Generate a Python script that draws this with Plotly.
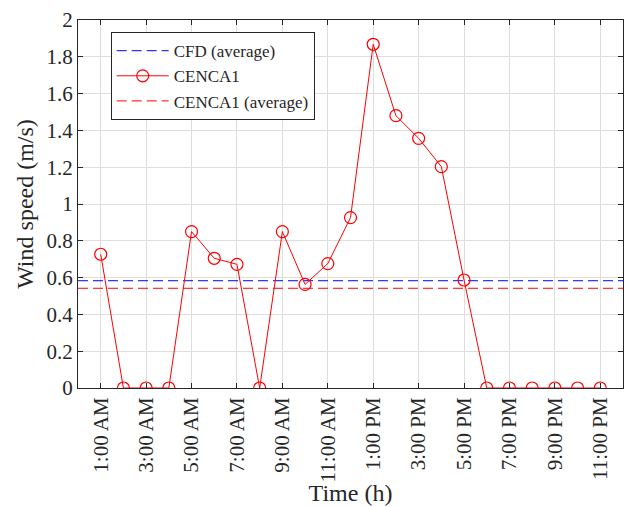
import plotly.graph_objects as go

hours = list(range(1, 24))
cenca1 = [0.727, 0, 0, 0, 0.85, 0.705, 0.672, 0, 0.85, 0.563, 0.676, 0.926,
          1.868, 1.48, 1.357, 1.203, 0.587, 0, 0, 0, 0, 0, 0]
cfd_avg = 0.583
cenca1_avg = 0.542
tick_vals = [1, 3, 5, 7, 9, 11, 13, 15, 17, 19, 21, 23]
tick_text = ["1:00 AM", "3:00 AM", "5:00 AM", "7:00 AM", "9:00 AM", "11:00 AM",
             "1:00 PM", "3:00 PM", "5:00 PM", "7:00 PM", "9:00 PM", "11:00 PM"]
x_range = [0, 24]

FONT = "Liberation Serif"
TXT = "#262626"

fig = go.Figure()
fig.add_trace(go.Scatter(x=x_range, y=[cfd_avg, cfd_avg], mode="lines",
                         name="CFD (average)",
                         line=dict(color="#0000ff", width=1, dash="10px,5px")))
fig.add_trace(go.Scatter(x=hours, y=cenca1, mode="lines+markers", name="CENCA1",
                         line=dict(color="#ff0000", width=1),
                         marker=dict(symbol="circle-open", size=12, color="#ff0000",
                                     line=dict(width=1.2, color="#ff0000"))))
fig.add_trace(go.Scatter(x=x_range, y=[cenca1_avg, cenca1_avg], mode="lines",
                         name="CENCA1 (average)",
                         line=dict(color="#ff0000", width=1, dash="10px,5px")))

fig.update_layout(
    width=624, height=506,
    margin=dict(l=78, r=1, t=20, b=118),
    paper_bgcolor="white", plot_bgcolor="white",
    font=dict(family=FONT, color=TXT, size=18),
    showlegend=True,
    legend=dict(x=0.06, y=0.967, xanchor="left", yanchor="top",
                bgcolor="white", bordercolor=TXT, borderwidth=1,
                font=dict(family=FONT, size=17, color=TXT),
                tracegroupgap=0, itemwidth=52),
)
fig.update_xaxes(range=x_range, tickvals=tick_vals, ticktext=tick_text,
                 tickangle=-90, ticks="inside", ticklen=5, tickcolor=TXT,
                 showline=True, linecolor=TXT, linewidth=1, mirror="ticks",
                 showgrid=True, gridcolor="#dedede", gridwidth=1, zeroline=False,
                 automargin=False,
                 tickfont=dict(family=FONT, size=21, color=TXT),
                 title=dict(text="Time (h)", font=dict(family=FONT, size=24, color=TXT),
                            standoff=11))
fig.update_yaxes(range=[0, 2], tickvals=[0, 0.2, 0.4, 0.6, 0.8, 1, 1.2, 1.4, 1.6, 1.8, 2],
                 ticktext=["0", "0.2", "0.4", "0.6", "0.8", "1", "1.2", "1.4", "1.6", "1.8", "2"],
                 ticks="inside", ticklen=5, tickcolor=TXT,
                 showline=True, linecolor=TXT, linewidth=1, mirror="ticks",
                 showgrid=True, gridcolor="#dedede", gridwidth=1, zeroline=False,
                 automargin=False,
                 tickfont=dict(family=FONT, size=21, color=TXT),
                 title=dict(text="Wind speed (m/s)", font=dict(family=FONT, size=24, color=TXT),
                            standoff=6))

fig.write_html("out.html")
